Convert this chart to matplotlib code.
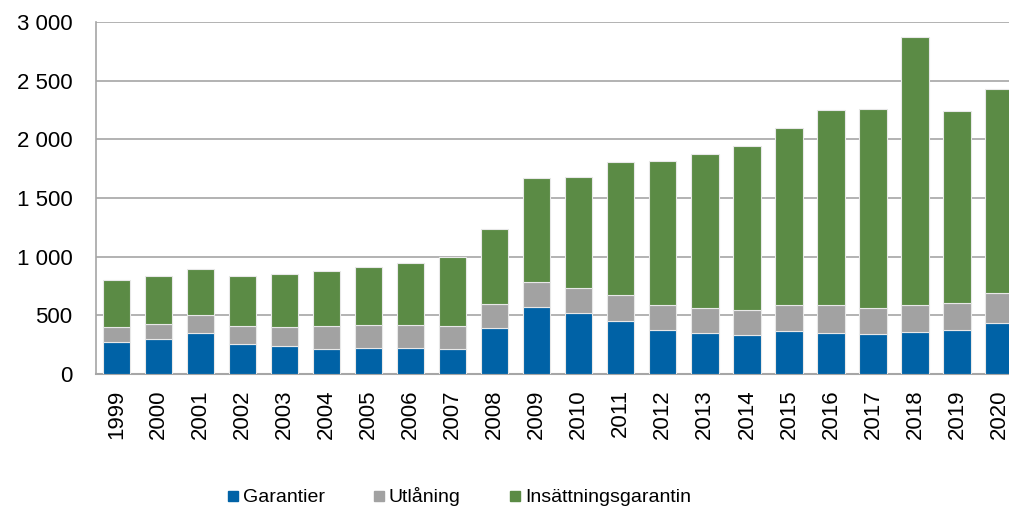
import numpy as np
import matplotlib
matplotlib.use('Agg')
import matplotlib.pyplot as plt
from matplotlib.ticker import FuncFormatter

# data
years = [str(y) for y in range(1999, 2021)]
garantier = [273, 299, 350, 253, 239, 217, 222, 222, 211, 396, 569,
             518, 450, 375, 347, 330, 367, 353, 339, 362, 373, 438]
utlaning = [128, 131, 157, 154, 159, 190, 193, 198, 202, 204, 211,
            219, 224, 211, 216, 219, 225, 233, 224, 230, 230, 253]
insattning = [398, 403, 389, 426, 452, 475, 493, 524, 580, 637, 887,
              944, 1135, 1228, 1314, 1391, 1504, 1666, 1692, 2280, 1638, 1737]

c_blue = '#0062a6'
c_gray = '#a2a2a2'
c_green = '#5b8b45'

plt.rcParams['font.family'] = ['Liberation Sans', 'DejaVu Sans']

W, H = 1009, 509
fig = plt.figure(figsize=(W/100, H/100), dpi=100)
ax = fig.add_axes([96/W, 1-374/H, 924/W, 352/H])

x = np.arange(len(years))
g = np.array(garantier)
u = np.array(utlaning)
i = np.array(insattning)
kw = dict(width=0.65, edgecolor='#e8e8e8', linewidth=0.8, zorder=3)
ax.bar(x, g, color=c_blue, label='Garantier', **kw)
ax.bar(x, u, bottom=g, color=c_gray, label='Utlåning', **kw)
ax.bar(x, i, bottom=g+u, color=c_green, label='Insättningsgarantin', **kw)

ax.set_xlim(-0.49, 21.5)
ax.set_ylim(0, 3000)
ax.set_yticks(range(0, 3001, 500))
ax.yaxis.set_major_formatter(FuncFormatter(lambda v, p: f'{int(v):,}'.replace(',', ' ')))
ax.set_xticks(x)
ax.set_xticklabels(years, rotation=90)
ax.tick_params(axis='both', length=0, labelsize=16, colors='#000000')
ax.tick_params(axis='y', pad=17)
ax.tick_params(axis='x', pad=11)

ax.grid(axis='y', color='#a6a6a6', linewidth=1.2, zorder=0)
ax.set_axisbelow(True)
for s in ['top', 'right']:
    ax.spines[s].set_visible(False)
ax.spines['left'].set_color('#a6a6a6')
ax.spines['bottom'].set_color('#a6a6a6')
ax.spines['left'].set_linewidth(1.2)
ax.spines['bottom'].set_linewidth(1.5)

handles = [plt.Line2D([], [], marker='s', linestyle='', markersize=7, color=c)
           for c in [c_blue, c_gray, c_green]]
fig.legend(handles, ['Garantier', 'Utlåning', 'Insättningsgarantin'],
           loc='center', bbox_to_anchor=(458/W, 1-497/H), ncol=3, frameon=False,
           fontsize=14, handletextpad=0.1, columnspacing=2.4, handlelength=0.8)

fig.savefig('out.png', dpi=100)
